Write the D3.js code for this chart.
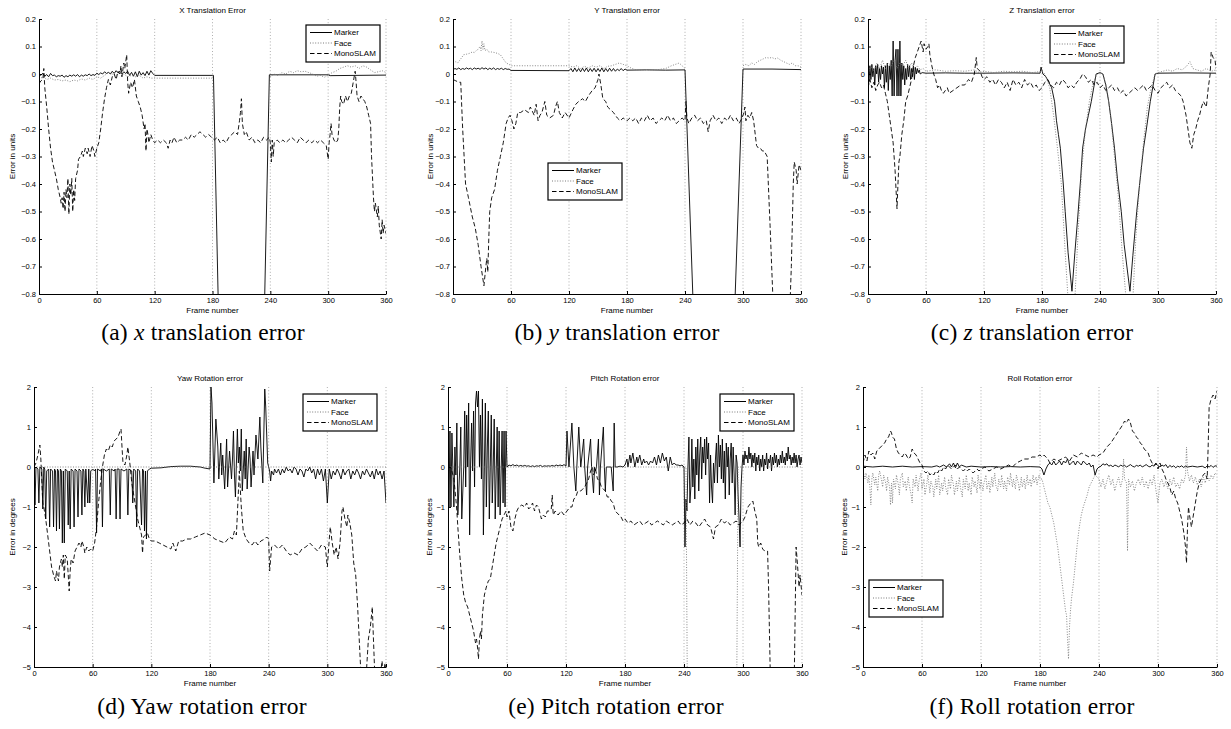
<!DOCTYPE html>
<html><head><meta charset="utf-8">
<script src="https://cdn.jsdelivr.net/npm/d3@7"></script>
<style>
body{margin:0;background:#fff;}
svg{display:block;}
.tick text{font-family:"Liberation Sans",Arial,sans-serif;font-size:7.5px;fill:#000;}
.small{font-family:"Liberation Sans",Arial,sans-serif;font-size:8px;fill:#000;}
.cap{font-family:"Liberation Serif","Times New Roman",serif;font-size:23.5px;letter-spacing:0.2px;fill:#000;}
</style></head>
<body>
<script>
// ---------------- DATA ----------------
const frameTicks = [0, 60, 120, 180, 240, 300, 360];
const transTicks = [0.2, 0.1, 0, -0.1, -0.2, -0.3, -0.4, -0.5, -0.6, -0.7, -0.8];
const rotTicks = [2, 1, 0, -1, -2, -3, -4, -5];
const seriesNames = ["Marker", "Face", "MonoSLAM"];

// (a) X translation
const aMarker = [[0,0],[2,-0.005],[4,0.003],[6,-0.008],[8,-0.002],[10,-0.01],[12,0.002],[14,-0.006],[16,-0.004],[18,-0.01],[20,-0.006],[22,-0.008],[24,-0.004],[26,-0.012],[28,-0.006],[30,-0.01],[32,-0.004],[34,-0.008],[36,-0.003],[38,-0.008],[40,-0.002],[42,-0.01],[44,-0.004],[46,-0.008],[48,-0.003],[50,-0.006],[52,0],[54,-0.006],[56,-0.002],[58,-0.005],[60,0.003],[62,-0.002],[64,0.004],[66,0],[68,0.008],[70,0.002],[72,0.006],[74,0],[76,0.01],[78,0.002],[80,0.012],[82,0.004],[84,0.01],[86,0],[88,0.008],[90,0.002],[92,0.01],[94,-0.005],[96,0.006],[98,-0.008],[100,0.008],[102,-0.01],[104,0.01],[106,-0.004],[108,0.005],[110,-0.006],[112,0.01],[114,-0.004],[116,0.012],[118,0.002],[120,-0.005],[180,-0.005],[181,-0.005],[190,-1.5],[230,-1.5],[239,-0.003],[300,-0.003],[302,-0.006],[360,-0.004]];
const aFace = [[0,-0.02],[4,-0.01],[8,-0.02],[12,-0.015],[16,-0.022],[20,-0.02],[24,-0.025],[28,-0.022],[32,-0.028],[36,-0.022],[40,-0.025],[44,-0.018],[48,-0.022],[52,-0.015],[56,-0.02],[60,-0.01],[64,-0.015],[68,-0.005],[72,0.005],[76,0],[80,-0.005],[84,0.005],[88,0],[92,-0.01],[96,-0.005],[100,-0.01],[104,-0.005],[108,-0.015],[112,-0.01],[116,-0.015],[120,-0.015],[180,-0.015],[181,null],[240,-0.01],[244,0],[248,-0.005],[252,0.005],[256,0],[260,0.01],[264,0.005],[268,0.012],[272,0.008],[276,0.01],[280,0.005],[284,0],[288,-0.008],[292,-0.005],[296,-0.012],[300,-0.005],[304,0.005],[308,0.01],[312,0.02],[316,0.025],[320,0.03],[324,0.025],[328,0.03],[332,0.02],[336,0.03],[340,0.025],[344,0.015],[348,0.005],[352,0.008],[356,0.012],[360,0.005]];
const aMono = [[0,-0.035],[2,-0.025],[4,-0.02],[5,0.02],[6,-0.05],[8,-0.12],[10,-0.2],[12,-0.27],[14,-0.32],[16,-0.35],[18,-0.38],[20,-0.42],[22,-0.45],[23,-0.47],[24,-0.45],[25,-0.49],[26,-0.43],[27,-0.5],[28,-0.42],[29,-0.45],[30,-0.38],[31,-0.51],[32,-0.4],[33,-0.44],[34,-0.38],[35,-0.5],[36,-0.42],[37,-0.46],[38,-0.38],[40,-0.35],[41,-0.31],[43,-0.3],[45,-0.28],[46,-0.3],[48,-0.27],[50,-0.29],[51,-0.27],[53,-0.3],[55,-0.26],[57,-0.28],[58,-0.3],[60,-0.27],[62,-0.25],[64,-0.2],[66,-0.14],[68,-0.09],[70,-0.05],[72,-0.02],[74,-0.04],[76,-0.01],[78,0],[80,-0.02],[82,0.01],[84,0],[85,0.03],[86,-0.01],[88,0.04],[89,0.02],[91,0.07],[92,-0.03],[93,-0.07],[95,-0.03],[97,-0.05],[99,-0.02],[101,-0.08],[103,-0.1],[105,-0.12],[107,-0.15],[109,-0.2],[110,-0.18],[111,-0.28],[112,-0.2],[113,-0.22],[114,-0.25],[116,-0.22],[118,-0.24],[120,-0.25],[123,-0.24],[126,-0.25],[129,-0.24],[132,-0.25],[134,-0.27],[136,-0.24],[138,-0.25],[140,-0.23],[143,-0.25],[146,-0.24],[149,-0.24],[152,-0.23],[155,-0.24],[158,-0.22],[161,-0.23],[164,-0.22],[167,-0.21],[170,-0.22],[173,-0.23],[176,-0.22],[179,-0.23],[182,-0.24],[185,-0.23],[188,-0.25],[191,-0.24],[194,-0.25],[197,-0.23],[200,-0.22],[203,-0.21],[206,-0.22],[208,-0.17],[209,-0.14],[210,-0.09],[211,-0.18],[213,-0.22],[215,-0.21],[218,-0.24],[221,-0.23],[224,-0.25],[227,-0.24],[230,-0.25],[233,-0.23],[236,-0.24],[239,-0.23],[240,-0.25],[241,-0.32],[242,-0.24],[243,-0.3],[244,-0.25],[247,-0.24],[250,-0.25],[253,-0.24],[256,-0.25],[259,-0.24],[262,-0.23],[265,-0.24],[268,-0.25],[271,-0.23],[274,-0.24],[277,-0.25],[280,-0.24],[283,-0.25],[286,-0.24],[289,-0.25],[292,-0.24],[295,-0.25],[298,-0.26],[300,-0.31],[301,-0.25],[302,-0.22],[303,-0.18],[304,-0.22],[306,-0.24],[308,-0.25],[310,-0.24],[311,-0.2],[312,-0.12],[313,-0.08],[314,-0.1],[316,-0.11],[318,-0.08],[320,-0.1],[322,-0.08],[324,-0.07],[326,-0.03],[328,0.01],[329,-0.03],[330,-0.08],[332,-0.1],[334,-0.08],[336,-0.09],[338,-0.1],[340,-0.12],[342,-0.15],[344,-0.18],[345,-0.3],[347,-0.45],[348,-0.5],[349,-0.47],[351,-0.52],[352,-0.48],[353,-0.55],[355,-0.6],[356,-0.53],[357,-0.58],[358,-0.55],[360,-0.58]];

// (b) Y translation
const bMarker = [[0,0.015],[2,0.02],[4,0.017],[6,0.022],[8,0.016],[10,0.02],[12,0.017],[14,0.022],[16,0.018],[18,0.021],[20,0.016],[22,0.022],[24,0.018],[26,0.021],[28,0.017],[30,0.023],[32,0.018],[34,0.022],[36,0.016],[38,0.021],[40,0.017],[42,0.022],[44,0.016],[46,0.02],[48,0.017],[50,0.021],[52,0.016],[54,0.02],[56,0.017],[58,0.018],[60,0.013],[120,0.012],[122,0.02],[124,0.008],[126,0.022],[128,0.009],[130,0.02],[132,0.008],[134,0.021],[136,0.009],[138,0.022],[140,0.008],[142,0.02],[144,0.009],[146,0.021],[148,0.008],[150,0.02],[152,0.009],[154,0.022],[156,0.008],[158,0.02],[160,0.009],[162,0.021],[164,0.01],[166,0.02],[168,0.01],[170,0.018],[172,0.012],[174,0.02],[176,0.012],[178,0.018],[180,0.014],[200,0.015],[220,0.014],[240,0.015],[252,-1.2],[288,-1.2],[300,0.018],[330,0.018],[360,0.016]];
const bFace = [[0,0.04],[3,0.045],[5,0.04],[7,0.05],[9,0.06],[11,0.07],[14,0.072],[17,0.075],[20,0.08],[22,0.078],[24,0.085],[26,0.09],[28,0.1],[29,0.085],[30,0.12],[31,0.09],[32,0.11],[33,0.085],[35,0.09],[37,0.08],[40,0.08],[43,0.078],[46,0.075],[49,0.07],[52,0.055],[55,0.04],[58,0.035],[60,0.03],[120,0.03],[124,0.025],[128,0.03],[132,0.02],[136,0.028],[140,0.022],[144,0.03],[148,0.025],[152,0.03],[156,0.02],[160,0.028],[164,0.03],[168,0.035],[172,0.04],[176,0.035],[180,0.03],[185,0.02],[190,0.015],[200,0.015],[210,0.015],[220,0.02],[226,0.03],[230,0.035],[234,0.04],[237,0.03],[240,0.02],[241,null],[300,0.03],[303,0.035],[306,0.03],[309,0.04],[312,0.035],[315,0.045],[318,0.05],[321,0.055],[324,0.06],[327,0.058],[330,0.06],[333,0.055],[336,0.058],[339,0.05],[342,0.045],[345,0.04],[348,0.035],[351,0.04],[354,0.03],[357,0.03],[360,0.025]];
const bMono = [[0,-0.02],[3,-0.025],[6,-0.03],[8,-0.03],[10,-0.2],[13,-0.4],[16,-0.45],[20,-0.52],[23,-0.56],[26,-0.62],[29,-0.7],[32,-0.77],[34,-0.7],[35,-0.67],[36,-0.72],[37,-0.6],[38,-0.5],[40,-0.45],[43,-0.42],[46,-0.35],[49,-0.3],[52,-0.25],[55,-0.18],[57,-0.16],[59,-0.15],[61,-0.17],[63,-0.2],[65,-0.18],[67,-0.14],[70,-0.14],[74,-0.13],[78,-0.14],[80,-0.12],[84,-0.15],[86,-0.11],[88,-0.17],[90,-0.15],[92,-0.14],[95,-0.1],[97,-0.15],[100,-0.16],[104,-0.15],[106,-0.12],[108,-0.1],[110,-0.14],[113,-0.16],[116,-0.14],[120,-0.16],[124,-0.13],[127,-0.11],[130,-0.1],[134,-0.09],[137,-0.1],[140,-0.08],[144,-0.06],[147,-0.05],[150,-0.02],[151,0],[153,-0.04],[155,-0.09],[158,-0.1],[160,-0.12],[163,-0.13],[166,-0.14],[170,-0.16],[173,-0.17],[176,-0.16],[180,-0.17],[183,-0.16],[186,-0.17],[189,-0.16],[192,-0.18],[195,-0.16],[198,-0.17],[201,-0.15],[204,-0.17],[207,-0.16],[210,-0.18],[213,-0.17],[216,-0.16],[219,-0.17],[222,-0.15],[225,-0.17],[228,-0.16],[231,-0.18],[234,-0.17],[237,-0.16],[240,-0.17],[241,-0.1],[242,-0.16],[244,-0.18],[247,-0.16],[250,-0.15],[253,-0.17],[256,-0.16],[259,-0.18],[262,-0.17],[264,-0.21],[266,-0.17],[269,-0.15],[272,-0.17],[275,-0.16],[278,-0.18],[281,-0.16],[284,-0.17],[287,-0.15],[290,-0.17],[293,-0.16],[296,-0.18],[299,-0.16],[301,-0.14],[302,-0.12],[303,-0.17],[305,-0.15],[307,-0.16],[309,-0.14],[311,-0.17],[312,-0.2],[314,-0.26],[316,-0.27],[318,-0.27],[320,-0.28],[322,-0.28],[325,-0.3],[328,-0.55],[331,-0.82],[333,-1.0],[347,-1.0],[350,-0.7],[352,-0.4],[353,-0.32],[355,-0.35],[356,-0.4],[358,-0.33],[360,-0.35]];

// (c) Z translation
const cMarker = [[0,0.02],[1,-0.03],[2,0.03],[3,-0.02],[4,0.035],[5,-0.01],[6,0.02],[7,-0.04],[8,0.03],[9,0],[10,0.035],[11,-0.03],[12,0.02],[13,-0.02],[14,0.03],[15,0],[16,0.025],[17,-0.05],[18,0.03],[19,-0.03],[20,0.04],[21,-0.06],[22,0.03],[23,-0.02],[24,0.05],[25,-0.08],[26,0.12],[27,-0.08],[28,0.05],[29,0.09],[30,-0.08],[31,0.09],[32,-0.08],[33,0.12],[34,-0.08],[35,0.04],[36,-0.02],[37,0.03],[38,-0.04],[39,0.02],[40,-0.02],[41,0.035],[42,-0.01],[43,0.03],[44,-0.02],[45,0.02],[46,-0.01],[47,0.03],[48,-0.02],[49,0.025],[50,0],[51,0.02],[52,0.005],[53,0.015],[54,0],[56,0.005],[60,0.003],[80,0.004],[100,0.003],[120,0.003],[150,0.004],[178,0.003],[179,0.025],[181,0],[184,-0.01],[187,-0.03],[190,-0.05],[193,-0.1],[195,-0.17],[197,-0.22],[199,-0.27],[202,-0.4],[204,-0.5],[207,-0.65],[211,-0.79],[214,-0.65],[217,-0.52],[220,-0.38],[222,-0.27],[225,-0.2],[228,-0.15],[231,-0.1],[234,-0.04],[236,0],[240,0.005],[243,0],[246,-0.04],[249,-0.1],[252,-0.18],[255,-0.27],[258,-0.38],[262,-0.5],[265,-0.62],[271,-0.79],[274,-0.66],[278,-0.5],[281,-0.4],[285,-0.27],[288,-0.2],[292,-0.1],[295,-0.04],[297,0],[300,0.003],[330,0.004],[360,0.003]];
const cFace = [[0,0],[3,0.03],[6,0.01],[9,0.04],[12,0.02],[15,0.05],[18,0.02],[21,0.04],[24,0.03],[27,0.05],[30,0.02],[33,0.04],[36,0.03],[39,0.05],[42,0.02],[45,0.04],[48,0.02],[51,0.03],[54,0.015],[57,0.02],[60,0.01],[70,0.015],[80,0.01],[90,0.012],[100,0.01],[110,0.015],[115,0.005],[120,0.01],[130,0.005],[140,0.01],[150,0.008],[160,0.01],[170,0.005],[180,0.01],[183,0],[188,-0.05],[192,-0.15],[196,-0.27],[200,-0.4],[204,-0.65],[207,-0.82],[210,-0.9],[214,-0.82],[217,-0.6],[221,-0.35],[225,-0.2],[229,-0.1],[233,-0.03],[237,0],[240,0.005],[243,0],[247,-0.05],[251,-0.15],[255,-0.3],[259,-0.45],[263,-0.65],[267,-0.82],[270,-0.9],[274,-0.82],[277,-0.6],[281,-0.4],[285,-0.25],[289,-0.12],[293,-0.05],[297,0],[300,0.005],[305,0.01],[310,0.015],[315,0.01],[320,0.02],[325,0.015],[330,0.03],[333,0.045],[336,0.02],[340,0.015],[345,0.01],[350,0.02],[355,0.01],[360,0.015]];
const cMono = [[0,-0.05],[2,-0.02],[4,-0.05],[6,-0.03],[8,-0.06],[10,-0.04],[12,-0.03],[14,-0.05],[16,-0.04],[18,-0.07],[20,-0.1],[22,-0.15],[24,-0.2],[26,-0.25],[28,-0.35],[29,-0.42],[30,-0.49],[31,-0.4],[32,-0.32],[33,-0.3],[35,-0.22],[37,-0.17],[39,-0.1],[41,-0.08],[43,-0.05],[45,-0.02],[47,0.03],[49,0.06],[51,0.08],[53,0.1],[55,0.12],[56,0.1],[57,0.08],[58,0.11],[60,0.09],[62,0.1],[63,0.11],[64,0.07],[66,0.03],[68,0],[70,-0.02],[72,-0.05],[74,-0.04],[76,-0.06],[78,-0.07],[80,-0.06],[82,-0.05],[84,-0.07],[88,-0.06],[92,-0.05],[96,-0.04],[100,-0.04],[104,-0.02],[107,-0.03],[110,0],[112,0.06],[113,0.02],[116,0.01],[118,-0.01],[120,-0.02],[123,-0.01],[126,-0.03],[129,-0.02],[132,-0.04],[135,-0.02],[138,-0.03],[141,-0.05],[144,-0.03],[147,-0.06],[150,-0.02],[153,-0.04],[156,-0.03],[159,-0.05],[162,-0.02],[165,-0.04],[168,-0.03],[171,-0.05],[174,-0.04],[177,-0.06],[180,-0.05],[183,-0.03],[186,-0.02],[189,-0.04],[192,-0.05],[195,-0.03],[198,-0.04],[201,-0.02],[204,-0.03],[207,-0.05],[210,-0.04],[213,-0.05],[216,-0.03],[219,-0.02],[222,0],[225,-0.01],[228,-0.03],[231,-0.02],[234,-0.04],[237,-0.03],[240,-0.05],[243,-0.04],[246,-0.06],[249,-0.05],[252,-0.04],[255,-0.06],[258,-0.05],[261,-0.07],[264,-0.06],[267,-0.08],[270,-0.07],[273,-0.06],[276,-0.05],[279,-0.06],[282,-0.05],[285,-0.04],[288,-0.06],[291,-0.05],[294,-0.04],[297,-0.06],[300,-0.07],[303,-0.05],[306,-0.04],[309,-0.03],[312,-0.05],[315,-0.04],[318,-0.06],[321,-0.07],[324,-0.08],[326,-0.1],[329,-0.15],[331,-0.2],[333,-0.25],[335,-0.27],[337,-0.22],[339,-0.2],[341,-0.17],[343,-0.15],[345,-0.12],[347,-0.1],[350,-0.12],[352,-0.05],[354,0],[355,0.08],[357,0.06],[359,0.05],[360,0.02]];

// (d) Yaw rotation
const dMarker = [[0,-0.1],[1,-0.95],[2,0],[4,-0.05],[5,-0.9],[6,0],[8,-0.05],[9,-1.05],[10,0],[11,-0.05],[12,-1.3],[13,-0.1],[15,-0.05],[16,-1.5],[17,-0.05],[19,-0.1],[20,-1.5],[21,-0.05],[22,-0.1],[23,-1.6],[24,-0.05],[25,-0.1],[26,-1.55],[27,-0.05],[28,-0.1],[29,-1.9],[30,-0.1],[31,-1.9],[32,-0.05],[34,-0.1],[35,-1.45],[36,-0.1],[37,-1.55],[38,-0.05],[40,-0.1],[41,-1.5],[42,-0.05],[44,-0.1],[45,-1.25],[46,-0.05],[48,-0.1],[49,-1.2],[50,-0.05],[51,-0.1],[52,-1.0],[53,-0.05],[55,-0.9],[56,-0.05],[57,-0.9],[58,-0.1],[60,-0.05],[62,-0.1],[63,-0.05],[64,-1.65],[65,-0.05],[68,-0.1],[69,-0.05],[70,-1.5],[71,-0.05],[74,-0.1],[77,-0.05],[78,-1.2],[79,-0.05],[82,-0.1],[83,-0.05],[84,-1.3],[85,-0.05],[87,-0.05],[88,-1.3],[89,-0.05],[92,-0.1],[95,-0.05],[96,-1.2],[97,-0.05],[100,-0.1],[101,-0.9],[102,-0.05],[104,-0.1],[105,-1.5],[106,-0.05],[108,-0.1],[110,-1.45],[111,-0.05],[112,-0.1],[113,-1.6],[114,-0.1],[115,-1.8],[116,-0.1],[118,-0.05],[120,-0.03],[130,-0.02],[140,0.01],[150,0.02],[160,0.02],[170,0],[175,-0.03],[180,-0.05],[181,2.0],[182,1.6],[184,-0.4],[186,1.2],[188,0.5],[189,-0.3],[191,0.6],[192,-0.2],[193,0.3],[195,-0.55],[197,0.7],[198,-0.5],[200,0.4],[202,-0.3],[203,0.2],[204,0.9],[205,-0.2],[206,-0.75],[208,0.95],[209,0.1],[210,0.5],[211,-0.1],[212,0.95],[213,-0.6],[215,0.4],[216,-0.3],[217,0.7],[218,-0.55],[220,0.5],[221,0.2],[222,-0.5],[224,0.4],[225,-0.2],[227,0.8],[229,0.2],[231,1.25],[232,0.5],[234,-0.4],[236,1.95],[237,1.5],[239,0.1],[240,0],[241,-0.1],[242,-0.35],[243,-0.1],[245,-0.2],[246,-0.05],[248,-0.15],[250,-0.05],[252,-0.2],[254,-0.05],[256,-0.15],[258,0],[260,-0.1],[262,-0.05],[264,-0.15],[266,0],[268,-0.05],[270,-0.2],[272,-0.05],[274,-0.1],[276,-0.25],[278,-0.05],[280,-0.1],[282,0],[284,-0.15],[286,-0.05],[288,-0.3],[290,-0.05],[292,-0.2],[294,-0.05],[296,-0.35],[298,-0.05],[300,-0.9],[302,-0.05],[304,-0.3],[306,-0.1],[308,-0.2],[310,-0.05],[312,-0.15],[314,-0.3],[316,-0.05],[318,-0.2],[320,-0.1],[322,-0.05],[324,-0.3],[326,-0.1],[328,-0.2],[330,-0.05],[332,-0.15],[334,-0.3],[336,-0.1],[338,-0.2],[340,-0.05],[342,-0.15],[344,-0.25],[346,-0.1],[348,-0.3],[350,-0.05],[352,-0.2],[354,-0.1],[356,-0.3],[358,-0.1],[360,-0.9]];
const dFace = [[0,0],[360,0]];
const dMono = [[0,0],[2,0.1],[4,0.3],[6,0.55],[7,0.2],[9,-0.9],[10,-1.0],[12,-1.3],[14,-1.7],[16,-2.1],[18,-2.5],[20,-2.7],[22,-2.85],[23,-2.6],[25,-2.85],[26,-2.5],[28,-2.3],[29,-2.5],[30,-2.2],[31,-2.8],[32,-2.2],[34,-2.3],[35,-2.7],[36,-3.1],[37,-2.6],[38,-2.3],[40,-2.4],[42,-2.1],[44,-2.0],[46,-1.9],[48,-2.0],[49,-1.85],[51,-2.0],[52,-2.15],[54,-2.0],[56,-2.1],[58,-2.05],[60,-2.1],[62,-1.9],[64,-1.5],[66,-0.9],[68,-0.4],[70,0],[72,0.3],[74,0.45],[76,0.4],[78,0.55],[80,0.5],[82,0.65],[84,0.7],[86,0.75],[88,0.9],[89,0.95],[90,0.5],[91,0.1],[93,0.05],[95,0.3],[96,0.5],[98,0.1],[100,-0.4],[102,-0.7],[104,-1.0],[106,-1.3],[108,-1.5],[110,-1.7],[111,-2.15],[112,-1.75],[114,-1.7],[116,-1.65],[118,-1.8],[120,-1.85],[124,-1.85],[128,-1.9],[132,-1.95],[136,-2.0],[140,-2.05],[142,-1.9],[145,-2.1],[148,-1.85],[152,-1.85],[156,-1.8],[160,-1.8],[165,-1.75],[170,-1.7],[175,-1.65],[180,-1.7],[185,-1.8],[190,-1.85],[195,-1.9],[200,-1.75],[203,-1.8],[205,-1.6],[207,-1.7],[210,-0.1],[212,-1.0],[214,-1.6],[217,-1.8],[220,-1.9],[223,-1.95],[226,-1.85],[229,-1.95],[232,-1.85],[236,-1.8],[238,-1.75],[240,-1.8],[241,-2.6],[242,-2.3],[243,-2.0],[246,-1.95],[250,-2.05],[254,-1.95],[258,-2.1],[262,-2.2],[266,-2.15],[270,-2.2],[274,-2.05],[278,-2.0],[282,-1.9],[286,-2.0],[290,-2.1],[294,-1.95],[298,-2.0],[300,-2.5],[302,-1.8],[303,-1.5],[305,-1.9],[307,-2.2],[309,-2.0],[311,-2.3],[313,-1.9],[315,-1.1],[316,-1.0],[318,-1.3],[320,-1.5],[321,-1.2],[323,-1.4],[325,-1.7],[327,-2.4],[329,-2.7],[331,-3.5],[333,-4.5],[335,-5.5],[339,-5.5],[342,-4.3],[344,-4.0],[346,-3.5],[347,-4.2],[349,-5.5],[352,-5.6],[356,-4.85],[357,-5.3],[359,-4.9],[360,-5.2]];

// (e) Pitch rotation
const eMarker = [[0,0.9],[1,-1.0],[2,0.9],[3,-1.0],[4,0.85],[6,-1.0],[7,0.5],[8,-0.2],[9,1.1],[10,-1.2],[12,0],[13,1.0],[14,-1.3],[16,0],[17,1.4],[18,-0.5],[19,1.3],[20,0],[21,1.6],[22,-1.7],[23,0.1],[24,1.1],[25,-0.1],[26,1.4],[27,-0.5],[28,1.6],[29,1.9],[30,1.5],[31,1.9],[32,0],[33,1.3],[34,-0.3],[35,1.7],[36,-1.7],[37,0],[38,1.6],[39,-1.0],[40,0.5],[41,1.4],[42,-1.3],[44,1.3],[45,-0.9],[46,0],[47,1.2],[48,-1.3],[50,1.0],[51,-1.0],[52,0.9],[53,-1.2],[55,0.9],[56,-0.9],[57,0.9],[58,-1.0],[59,0.9],[60,0],[62,0.05],[64,0.03],[66,0.06],[68,0.03],[70,0.05],[72,0.02],[74,0.04],[76,0.02],[78,0.04],[80,0.02],[82,0.03],[84,0.01],[86,0.03],[88,0.01],[90,0.03],[92,0.02],[94,0.04],[96,0.01],[98,0.03],[100,0.02],[102,0.03],[104,0.02],[106,0.04],[108,0.02],[110,0.05],[112,0.03],[114,0.05],[116,0.03],[118,0.06],[120,0.02],[121,0.9],[123,0],[126,1.1],[128,0],[130,-0.6],[131,0],[133,1.0],[135,0],[138,0.7],[139,0],[141,-0.7],[142,0],[145,0.7],[146,0],[148,-0.65],[149,0],[150,-0.1],[151,0],[153,0.7],[154,-0.7],[155,0],[158,1.0],[159,0],[160,-0.6],[161,0],[166,0],[168,-0.6],[169,1.1],[170,0],[172,0],[175,0.02],[178,0],[180,0.05],[182,0.2],[183,0],[185,0.3],[186,0.1],[188,0.35],[190,0],[192,0.25],[193,0.1],[195,0.3],[197,0.05],[199,0.2],[200,0.1],[202,0.15],[204,0.05],[206,0.15],[208,0.1],[210,0.25],[212,0.05],[214,0.3],[216,0.1],[218,0.35],[220,0.15],[222,0.25],[224,-0.1],[226,0.25],[228,0.05],[230,0.1],[232,0.05],[234,0.05],[236,0.03],[238,0.05],[240,0],[241,-2.0],[242,-0.8],[243,-1.1],[244,0],[245,0.75],[246,-0.9],[247,-0.5],[248,0.7],[249,-0.5],[250,0.2],[251,-0.8],[252,0.5],[253,-0.2],[254,0.7],[255,-0.6],[256,0.3],[257,0.75],[258,-0.3],[259,0.5],[260,0.1],[261,0.7],[262,-0.2],[263,0.75],[264,0.2],[265,0.6],[266,-0.9],[267,0.3],[268,-0.5],[269,-0.9],[270,0.1],[271,-0.4],[272,0.2],[273,0.6],[274,-0.4],[275,0.8],[276,0],[277,0.55],[278,-0.3],[279,0.7],[280,-0.4],[281,0.4],[282,-0.8],[283,0.6],[284,0],[285,0.5],[286,-0.7],[287,0.2],[288,0.6],[289,-0.4],[290,0.5],[291,-0.2],[292,-1.2],[293,0.3],[294,0.1],[295,-0.7],[296,-1.3],[297,-2.0],[298,-0.5],[299,0],[300,0.3],[301,0.05],[302,0.4],[303,0.2],[304,0.3],[305,0.1],[306,0.5],[307,0.2],[308,0.35],[309,0],[310,0.3],[311,0.1],[312,0.35],[313,-0.1],[314,0.25],[315,0.05],[316,0.3],[317,-0.1],[318,0.2],[319,0],[320,0.3],[321,-0.1],[322,0.2],[323,0.05],[324,0.35],[325,-0.05],[326,0.2],[327,0.1],[328,0.3],[329,-0.1],[330,0.25],[331,0.05],[332,0.35],[333,0.1],[334,0.3],[335,0],[336,0.2],[337,0.05],[338,0.3],[339,0.1],[340,0.4],[341,0.1],[342,0.25],[343,0.05],[344,0.35],[345,0.15],[346,0.5],[347,0.2],[348,0.3],[349,0.05],[350,0.25],[351,0.1],[352,0.35],[353,0.1],[354,0.3],[355,0],[356,0.2],[357,0.3],[358,0.05],[359,0.25],[360,0.1]];
const eFace = [[0,0],[242,0],[244,-8],[293,-8],[295,0],[360,0]];
const eMono = [[0,-0.05],[2,0],[4,-0.1],[6,-0.3],[8,-0.8],[9,-1.1],[10,-1.5],[12,-2.2],[14,-2.8],[16,-3.2],[18,-3.4],[20,-3.5],[22,-3.7],[24,-3.9],[26,-4.1],[28,-4.4],[29,-4.3],[30,-4.5],[31,-4.8],[32,-4.3],[33,-4.1],[34,-4.3],[35,-3.7],[37,-3.2],[39,-3.0],[41,-2.85],[43,-2.8],[45,-2.5],[47,-2.2],[49,-1.9],[51,-1.7],[53,-1.5],[55,-1.3],[57,-1.2],[59,-1.1],[60,-1.25],[62,-1.1],[64,-1.5],[66,-1.6],[68,-1.3],[70,-1.1],[72,-1.0],[75,-0.95],[78,-1.0],[80,-0.9],[82,-1.05],[84,-1.0],[86,-0.9],[88,-1.1],[90,-0.95],[92,-1.0],[95,-1.3],[97,-1.2],[99,-1.25],[101,-1.1],[103,-1.1],[105,-1.05],[106,-0.7],[107,-1.2],[109,-1.1],[112,-1.2],[115,-1.1],[118,-1.2],[121,-1.1],[124,-1.0],[126,-1.0],[128,-0.8],[130,-0.75],[132,-0.6],[135,-0.6],[137,-0.55],[139,-0.5],[141,-0.4],[143,-0.3],[145,-0.1],[147,0],[148,-0.2],[150,-0.05],[152,-0.3],[154,-0.35],[156,-0.5],[158,-0.55],[160,-0.6],[162,-0.75],[164,-0.75],[166,-0.85],[168,-0.9],[170,-1.1],[172,-1.15],[174,-1.2],[176,-1.25],[178,-1.35],[180,-1.3],[183,-1.4],[186,-1.35],[189,-1.45],[192,-1.4],[195,-1.35],[198,-1.45],[201,-1.4],[204,-1.35],[207,-1.45],[210,-1.4],[213,-1.35],[216,-1.4],[219,-1.45],[222,-1.35],[225,-1.4],[228,-1.45],[231,-1.4],[234,-1.35],[237,-1.45],[240,-1.4],[243,-1.3],[246,-1.45],[249,-1.35],[252,-1.4],[255,-1.5],[258,-1.4],[261,-1.3],[264,-1.45],[267,-1.5],[270,-1.8],[272,-1.5],[275,-1.45],[278,-1.3],[281,-1.4],[284,-1.35],[287,-1.45],[290,-1.4],[293,-1.35],[296,-1.45],[300,-1.35],[302,-1.25],[305,-1.0],[308,-0.9],[310,-0.85],[312,-1.1],[314,-1.3],[315,-1.9],[316,-2.0],[318,-1.9],[320,-2.05],[322,-2.1],[325,-2.1],[326,-3.0],[328,-5.5],[352,-5.5],[354,-2.0],[355,-2.3],[357,-3.0],[358,-2.7],[360,-3.2]];

// (f) Roll rotation
const fMarker = [[0,0.02],[10,0],[20,0.02],[30,0],[40,0.02],[50,0],[60,0.01],[70,0],[75,0.03],[78,0],[82,0.05],[85,0],[88,0.08],[90,0],[92,0.1],[94,-0.02],[96,0.1],[98,0],[100,0.05],[105,0],[110,0.02],[120,0],[130,0.01],[140,0],[150,0.01],[160,0],[170,0.01],[180,0],[182,-0.05],[184,-0.2],[186,-0.05],[188,0.05],[190,0.1],[192,0.05],[194,0.15],[196,0.05],[198,0.1],[200,0.15],[202,0.05],[204,0.15],[206,0.1],[208,0.2],[210,0.05],[212,0.1],[214,0.15],[216,0.05],[218,0.15],[220,0.1],[222,0.05],[224,0.15],[226,0.1],[228,0.05],[230,0.1],[232,0],[234,0.05],[236,-0.2],[238,-0.05],[240,0],[242,0.02],[244,0.08],[246,0.05],[248,0.08],[250,0.02],[252,0.05],[254,0],[256,0.05],[258,0.03],[260,0],[262,0.05],[264,0.02],[266,0.04],[268,0],[270,0.03],[272,0.06],[274,0.02],[276,0],[278,0.04],[280,0.02],[282,0.05],[284,0],[286,0.03],[288,0.06],[290,0.02],[292,0],[294,0.05],[296,0.02],[298,0.08],[300,0.03],[302,0],[304,0.05],[306,0.02],[308,0.06],[310,-0.02],[312,0.04],[314,0],[316,0.03],[318,-0.02],[320,0.02],[322,0],[324,0.03],[326,-0.01],[328,0.02],[330,0],[335,0.02],[340,0],[345,0.02],[348,-0.02],[350,0.03],[352,0],[354,0.04],[356,-0.01],[358,0.03],[360,0.02]];
const fFace = [[0,-0.1],[2,-0.3],[3,-0.15],[5,-0.4],[6,-0.2],[7,-0.5],[8,-0.95],[9,-0.3],[10,-0.15],[12,-0.45],[13,-0.25],[15,-0.6],[16,-0.2],[17,-0.1],[19,-0.35],[20,-0.5],[21,-0.2],[23,-0.4],[24,-0.6],[25,-0.25],[27,-0.5],[28,-0.95],[29,-0.4],[30,-0.9],[31,-0.3],[33,-0.55],[34,-0.2],[36,-0.45],[37,-0.7],[38,-0.3],[40,-0.15],[41,-0.5],[43,-0.35],[44,-0.6],[46,-0.25],[47,-0.45],[49,-0.7],[50,-0.9],[51,-0.3],[53,-0.5],[54,-0.2],[56,-0.6],[57,-0.35],[59,-0.15],[60,-0.55],[62,-0.3],[63,-0.7],[65,-0.4],[66,-0.2],[68,-0.65],[69,-0.35],[71,-0.5],[72,-0.75],[74,-0.3],[75,-0.55],[77,-0.2],[78,-0.7],[80,-0.4],[81,-0.6],[83,-0.25],[84,-0.5],[86,-0.7],[87,-0.3],[89,-0.55],[90,-0.2],[92,-0.45],[93,-0.7],[95,-0.35],[96,-0.6],[98,-0.25],[99,-0.5],[101,-0.75],[102,-0.3],[104,-0.55],[105,-0.2],[107,-0.6],[108,-0.4],[110,-0.7],[111,-0.25],[113,-0.5],[114,-0.35],[116,-0.65],[117,-0.2],[119,-0.55],[120,-0.3],[122,-0.6],[123,-0.4],[125,-0.2],[126,-0.55],[128,-0.35],[129,-0.65],[131,-0.25],[132,-0.5],[134,-0.15],[135,-0.45],[137,-0.6],[138,-0.3],[140,-0.5],[141,-0.2],[143,-0.55],[144,-0.35],[146,-0.6],[147,-0.25],[149,-0.45],[150,-0.15],[152,-0.5],[153,-0.3],[155,-0.55],[156,-0.2],[158,-0.4],[159,-0.6],[161,-0.25],[162,-0.5],[164,-0.3],[165,-0.55],[167,-0.2],[168,-0.45],[170,-0.3],[171,-0.5],[173,-0.2],[174,-0.4],[176,-0.25],[177,-0.45],[179,-0.2],[180,-0.3],[182,-0.3],[184,-0.5],[186,-0.7],[188,-0.9],[190,-1.0],[192,-1.2],[194,-1.4],[196,-1.7],[198,-2.0],[200,-2.4],[202,-2.8],[204,-3.2],[206,-3.6],[207,-3.7],[208,-4.3],[209,-4.8],[210,-4.0],[211,-3.6],[212,-3.3],[214,-2.9],[216,-2.4],[218,-1.9],[220,-1.5],[222,-1.2],[224,-1.0],[226,-0.85],[228,-0.7],[230,-0.5],[232,-0.4],[234,-0.3],[236,-0.2],[238,-0.25],[240,-0.3],[242,-0.5],[244,-0.3],[246,-0.55],[248,-0.35],[250,-0.2],[252,-0.45],[254,-0.3],[256,-0.6],[258,-0.4],[260,-0.25],[262,-0.5],[264,-0.3],[265,0.2],[266,-0.3],[268,-0.4],[269,-2.1],[270,-0.3],[272,-0.5],[274,-0.35],[276,-0.6],[278,-0.4],[280,-0.3],[282,-0.45],[284,-0.25],[286,-0.5],[288,-0.35],[290,-0.55],[292,-0.3],[294,-0.45],[296,-0.2],[298,-0.6],[300,-0.9],[302,-0.4],[304,-0.3],[306,-0.5],[308,-0.35],[310,-0.55],[312,-0.3],[314,-0.45],[316,-0.25],[318,-0.5],[320,-0.4],[322,-0.55],[324,-0.3],[326,-0.4],[328,-0.2],[329,0.5],[330,-0.1],[332,-0.35],[334,-0.2],[336,-0.4],[338,-0.25],[340,-0.45],[342,-0.3],[344,-0.5],[346,-0.25],[348,-0.4],[350,-0.2],[352,-0.35],[354,-0.2],[356,-0.3],[358,-0.15],[360,-0.2]];
const fMono = [[0,0.1],[2,0.3],[4,0.15],[6,0.4],[8,0.3],[10,0.35],[12,0.2],[14,0.4],[16,0.45],[18,0.5],[20,0.55],[22,0.6],[24,0.7],[26,0.75],[28,0.9],[29,0.85],[30,0.75],[32,0.7],[34,0.45],[36,0.35],[38,0.3],[40,0.25],[42,0.35],[44,0.3],[46,0.2],[48,0.25],[50,0.45],[52,0.35],[54,0.3],[56,0.2],[58,0.1],[60,0.05],[62,-0.1],[64,-0.15],[66,-0.1],[68,-0.2],[70,-0.15],[72,-0.2],[74,-0.1],[76,-0.15],[78,-0.05],[80,-0.1],[82,0],[84,-0.05],[86,0.05],[88,0],[90,-0.05],[92,0],[94,0.05],[96,-0.05],[98,0],[100,-0.05],[102,-0.1],[104,-0.05],[106,-0.1],[108,-0.05],[110,-0.1],[112,-0.15],[114,-0.1],[116,-0.05],[118,-0.1],[120,-0.05],[124,0],[128,-0.1],[132,-0.05],[136,0],[140,-0.05],[144,0],[148,0.05],[152,0],[156,0.1],[160,0.15],[164,0.2],[168,0.2],[172,0.25],[176,0.25],[180,0.3],[182,0.25],[184,0.3],[186,0.25],[188,0.2],[190,0.1],[194,0.2],[198,0.15],[202,0.2],[206,0.25],[210,0.15],[214,0.3],[218,0.25],[222,0.35],[226,0.3],[230,0.25],[234,0.3],[238,0.25],[240,0.3],[244,0.35],[248,0.5],[252,0.6],[256,0.75],[260,0.9],[264,1.05],[266,1.15],[268,1.1],[270,1.2],[272,1.1],[274,0.9],[276,0.85],[278,0.75],[280,0.7],[282,0.6],[284,0.55],[286,0.45],[288,0.4],[290,0.35],[292,0.2],[294,0.1],[296,0.05],[298,0.1],[300,-0.05],[302,0.1],[304,-0.05],[306,-0.15],[308,-0.3],[310,-0.4],[312,-0.5],[314,-0.7],[316,-0.6],[318,-0.8],[320,-0.9],[322,-1.1],[324,-1.3],[326,-1.6],[328,-2.0],[329,-2.4],[330,-1.5],[331,-1.0],[332,-1.2],[334,-1.5],[336,-1.2],[338,-0.9],[340,-0.6],[342,-0.4],[344,-0.3],[346,-0.2],[348,-0.15],[350,-0.3],[351,0.5],[352,1.5],[354,1.7],[356,1.8],[358,1.7],[360,1.9]];

// ---------------- LAYOUT ----------------
const panels = [
  {title:"X Translation Error", ylab:"Error in units", dom:[-0.8,0.2], ticks:transTicks, fmt:".1~f", L:39, R:386, T:19, B:294, data:[aMarker,aFace,aMono], leg:[306,25], capL:"(a) ", capV:"x", capR:" translation error", capX:203, capY:340, ylabX:12},
  {title:"Y Translation error", ylab:"Error in units", dom:[-0.8,0.2], ticks:transTicks, fmt:".1~f", L:453, R:801, T:19, B:294, data:[bMarker,bFace,bMono], leg:[548,163], capL:"(b) ", capV:"y", capR:" translation error", capX:617, capY:340, ylabX:430},
  {title:"Z Translation error", ylab:"Error in units", dom:[-0.8,0.2], ticks:transTicks, fmt:".1~f", L:868, R:1216, T:19, B:294, data:[cMarker,cFace,cMono], leg:[1050,26], capL:"(c) ", capV:"z", capR:" translation error", capX:1032, capY:340, ylabX:845},
  {title:"Yaw Rotation error", ylab:"Error in degrees", dom:[-5,2], ticks:rotTicks, fmt:"d", L:34, R:386, T:387, B:667, data:[dMarker,dFace,dMono], leg:[303,394], capL:"(d) Yaw rotation error", capV:"", capR:"", capX:202, capY:714, ylabX:12},
  {title:"Pitch Rotation error", ylab:"Error in degrees", dom:[-5,2], ticks:rotTicks, fmt:"d", L:448, R:802, T:387, B:667, data:[eMarker,eFace,eMono], leg:[720,394], capL:"(e) Pitch rotation error", capV:"", capR:"", capX:616, capY:714, ylabX:429},
  {title:"Roll Rotation error", ylab:"Error in degrees", dom:[-5,2], ticks:rotTicks, fmt:"d", L:863, R:1217, T:387, B:667, data:[fMarker,fFace,fMono], leg:[869,580], capL:"(f) Roll rotation error", capV:"", capR:"", capX:1032, capY:714, ylabX:844}
];
const styles = [
  {stroke:"#000", dash:null, w:0.9},
  {stroke:"#7a7a7a", dash:"1,1.6", w:0.9},
  {stroke:"#000", dash:"4.5,2.6", w:0.9}
];

const svg = d3.select("body").append("svg").attr("width",1231).attr("height",729);

panels.forEach((p, i) => {
  const x = d3.scaleLinear().domain([0,360]).range([p.L,p.R]);
  const y = d3.scaleLinear().domain(p.dom).range([p.B,p.T]);
  const g = svg.append("g");
  const cid = "clip"+i;
  svg.append("clipPath").attr("id",cid).append("rect")
    .attr("x",p.L).attr("y",p.T).attr("width",p.R-p.L).attr("height",p.B-p.T);

  // gridlines
  g.append("g").selectAll("line").data(frameTicks.filter(t=>t>0)).join("line")
    .attr("x1",d=>x(d)).attr("x2",d=>x(d)).attr("y1",p.T).attr("y2",p.B)
    .attr("stroke","#9a9a9a").attr("stroke-width",0.8).attr("stroke-dasharray","1,2.2");

  // series
  const line = d3.line().defined(d=>d[1]!==null).x(d=>x(d[0])).y(d=>y(d[1]));
  const lg = g.append("g").attr("clip-path",`url(#${cid})`);
  p.data.forEach((ser, k) => {
    const s = styles[k];
    lg.append("path").datum(ser).attr("d",line).attr("fill","none")
      .attr("stroke",s.stroke).attr("stroke-width",s.w)
      .attr("stroke-dasharray",s.dash).attr("stroke-linejoin","round");
  });

  // axes
  const ya = g.append("g").attr("transform",`translate(${p.L},0)`)
    .call(d3.axisLeft(y).tickValues(p.ticks).tickFormat(d3.format(p.fmt)).tickSizeInner(-3).tickSizeOuter(0).tickPadding(3));
  const xa = g.append("g").attr("transform",`translate(0,${p.B})`)
    .call(d3.axisBottom(x).tickValues(frameTicks).tickFormat(d3.format("d")).tickSizeInner(-3).tickSizeOuter(0).tickPadding(4));
  [ya,xa].forEach(a=>{a.select(".domain").attr("stroke","#000").attr("stroke-width",1);
    a.selectAll(".tick line").attr("stroke","#000");});

  // title & labels
  g.append("text").attr("class","small").attr("x",(p.L+p.R)/2).attr("y",p.T-6)
    .attr("text-anchor","middle").text(p.title);
  g.append("text").attr("class","small").attr("x",(p.L+p.R)/2).attr("y",p.B+19)
    .attr("text-anchor","middle").text("Frame number");
  g.append("text").attr("class","small").attr("transform",`translate(${p.ylabX},${(p.T+p.B)/2}) rotate(-90)`)
    .attr("text-anchor","middle").attr("dy","0.35em").text(p.ylab);

  // legend
  const [lx,ly] = p.leg;
  const leg = g.append("g").attr("transform",`translate(${lx},${ly})`);
  leg.append("rect").attr("width",74).attr("height",37).attr("fill","#fff")
    .attr("stroke","#000").attr("stroke-width",1.2);
  seriesNames.forEach((nm,k)=>{
    const s = styles[k];
    const yy = 7.5 + k*10.5;
    leg.append("line").attr("x1",4).attr("x2",26).attr("y1",yy).attr("y2",yy)
      .attr("stroke",s.stroke).attr("stroke-width",1).attr("stroke-dasharray",s.dash);
    leg.append("text").attr("class","small").attr("x",28).attr("y",yy).attr("dy","0.35em").text(nm);
  });

  // caption
  const cap = svg.append("text").attr("class","cap").attr("x",p.capX).attr("y",p.capY).attr("text-anchor","middle");
  cap.append("tspan").text(p.capL);
  if (p.capV) {
    cap.append("tspan").attr("font-style","italic").text(p.capV);
    cap.append("tspan").text(p.capR);
  }
});
</script>
</body></html>
